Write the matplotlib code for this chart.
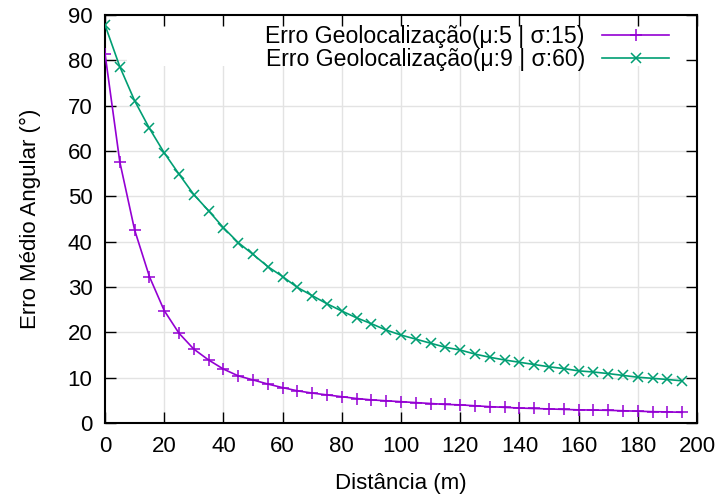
import matplotlib
matplotlib.use("Agg")
import matplotlib.pyplot as plt
from matplotlib.patches import Rectangle

# dados
dist = list(range(0, 200, 5))
erro_5_15 = [81.5, 57.6, 42.6, 32.3, 24.8, 19.8, 16.3, 13.9, 11.9, 10.4,
             9.5, 8.6, 7.8, 7.1, 6.6, 6.2, 5.8, 5.4, 5.1, 4.9,
             4.7, 4.5, 4.3, 4.1, 4.0, 3.8, 3.6, 3.45, 3.3, 3.2,
             3.1, 3.0, 2.9, 2.85, 2.8, 2.7, 2.6, 2.5, 2.45, 2.35]
erro_9_60 = [87.8, 78.6, 71.1, 65.0, 59.6, 54.9, 50.4, 46.8, 43.1, 39.8,
             37.2, 34.5, 32.3, 29.9, 28.1, 26.3, 24.7, 23.2, 21.9, 20.5,
             19.4, 18.5, 17.6, 16.7, 16.1, 15.2, 14.5, 13.9, 13.4, 12.9,
             12.4, 12.0, 11.5, 11.25, 10.9, 10.5, 10.1, 9.85, 9.6, 9.3]
labels = ["Erro Geolocalização(μ:5 | σ:15)", "Erro Geolocalização(μ:9 | σ:60)"]
xticks = list(range(0, 201, 20))
yticks = list(range(0, 91, 10))

FS = 16
plt.rcParams['font.family'] = ['Liberation Sans', 'DejaVu Sans']
plt.rcParams['font.size'] = FS

W = 592  # largura do eixo em pixels
fig = plt.figure(figsize=(7.21, 4.97), dpi=100)
ax = fig.add_axes([105/721, 1 - 423/497, W/721, 408/497])

# grade manual (fica por baixo da caixa da legenda)
for xv in xticks[1:-1]:
    ax.axvline(xv, color='#e3e3e3', lw=1, zorder=0.4)
for yv in yticks[1:-1]:
    ax.axhline(yv, color='#e3e3e3', lw=1, zorder=0.4)

# caixa opaca da legenda (estilo gnuplot)
ax.add_patch(Rectangle((22/W, 1 - 51/408), 1 - 22/W, 51/408,
                       transform=ax.transAxes, facecolor='white',
                       edgecolor='none', zorder=0.6))

ax.plot(dist, erro_5_15, color='#9400d3', lw=1.2, marker='+', ms=9,
        mew=1.1, label=labels[0], zorder=3)
ax.plot(dist, erro_9_60, color='#009e73', lw=1.2, marker='x', ms=7,
        mew=1.1, label=labels[1], zorder=3)

ax.set_xlim(0, 200)
ax.set_ylim(0, 90)
ax.set_xticks(xticks)
ax.set_yticks(yticks)
ax.tick_params(direction='in', length=8, width=1, top=True, right=True,
               pad=9, labelsize=FS)
for s in ax.spines.values():
    s.set_linewidth(1.5)

ax.set_xlabel('Distância (m)', fontsize=FS, labelpad=12)
ax.set_ylabel('Erro Médio Angular (°)', fontsize=FS, labelpad=19)

ax.legend(loc='upper right', bbox_to_anchor=((669 - 105)/W, 1 - 10/408),
          frameon=False, markerfirst=False, handlelength=2.9,
          handletextpad=0.75, borderpad=0, borderaxespad=0,
          labelspacing=0.0, fontsize=16.6)

fig.savefig('out.png', dpi=100)
